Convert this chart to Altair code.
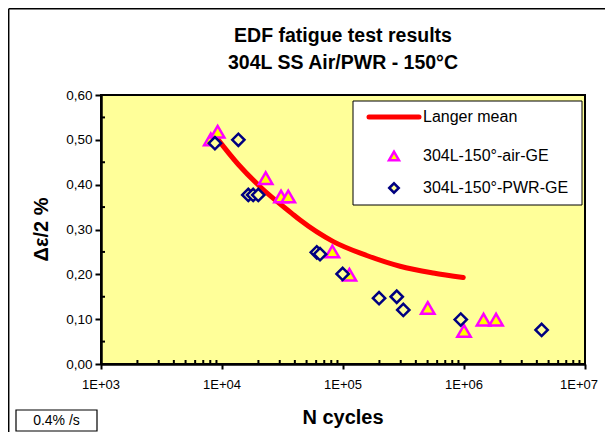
import altair as alt
import pandas as pd

# ---- data ----
air_N = [8080, 9210, 22960, 30760, 35300, 81700, 113000, 502000, 1000000, 1450000, 1840000]
air_eps = [0.501, 0.518, 0.4145, 0.3735, 0.3735, 0.251, 0.199, 0.125, 0.074, 0.099, 0.099]

pwr_N = [8740, 13650, 16500, 18100, 19950, 60700, 64600, 99300, 198600, 278000, 315000, 940000, 4380000]
pwr_eps = [0.4926, 0.50, 0.377, 0.377, 0.377, 0.249, 0.245, 0.201, 0.1467, 0.150, 0.1205, 0.099, 0.076]

langer_N = [9000, 13650, 21300, 37700, 44200, 83200, 157000, 296000, 557000, 986000]
langer_eps = [0.505, 0.445, 0.392, 0.336, 0.321, 0.273, 0.242, 0.218, 0.203, 0.193]

x_major = [1e3, 1e4, 1e5, 1e6, 1e7]
x_minor = [m * 10 ** k for k in range(3, 7) for m in range(2, 10)]
y_major = [0.0, 0.1, 0.2, 0.3, 0.4, 0.5, 0.6]
y_minor = [0.05, 0.15, 0.25, 0.35, 0.45, 0.55]

title_lines = ["EDF fatigue test results", "304L SS Air/PWR - 150°C"]
x_title = "N cycles"
y_title = "Δε/2 %"
rate_note = "0.4% /s"
legend_labels = ["Langer mean", "304L-150°-air-GE", "304L-150°-PWR-GE"]

# ---- build ----
W, H = 484, 269
FONT = "Liberation Sans"

air = pd.DataFrame({"N": air_N, "eps": air_eps})
pwr = pd.DataFrame({"N": pwr_N, "eps": pwr_eps})
langer = pd.DataFrame({"N": langer_N, "eps": langer_eps})

xs = alt.Scale(type="log", domain=[1e3, 1e7])
ys = alt.Scale(domain=[0, 0.6])

x_axis = alt.Axis(values=x_major, labels=False,
                  title=None, grid=False, tickSize=5, tickWidth=2, tickColor="black",
                  domainColor="black", domainWidth=2.5)
y_axis = alt.Axis(values=y_major, labelExpr="replace(format(datum.value, '.2f'), '.', ',')",
                  title=None, grid=False, tickSize=6, tickWidth=2, tickColor="black",
                  domainColor="black", domainWidth=2.5, labelFont=FONT, labelFontSize=13.5,
                  labelColor="black", labelPadding=3, labelFlush=False, labelOverlap=False)

X = alt.X("N:Q", scale=xs, axis=x_axis)
Y = alt.Y("eps:Q", scale=ys, axis=y_axis)

one = alt.Data(values=[{"a": 1}])

line = alt.Chart(langer).mark_line(color="#FF0000", strokeWidth=5, strokeCap="round",
                                   interpolate="monotone").encode(x=X, y=Y)
tri = alt.Chart(air).mark_point(shape="triangle-up", size=180, filled=True, fill="#FFFF00",
                                stroke="#FF00FF", strokeWidth=2.5, opacity=1).encode(x=X, y=Y)
dia = alt.Chart(pwr).mark_point(shape="diamond", size=150, filled=True, fill="#FFFF99",
                                stroke="#000080", strokeWidth=2.5, opacity=1).encode(x=X, y=Y)

xmin = alt.Chart(pd.DataFrame({"N": x_minor})).mark_rule(color="black", strokeWidth=2).encode(
    x=X, y=alt.value(H), y2=alt.value(H - 4))
ymin = alt.Chart(pd.DataFrame({"eps": y_minor})).mark_rule(color="black", strokeWidth=2).encode(
    y=Y, x=alt.value(0), x2=alt.value(4))

# x tick labels drawn through the x scale; the last one is nudged inside the page like Excel does
xlab_df = pd.DataFrame({"N": x_major})
lab_expr = "'1E+0' + format(log(datum.N)/LN10, '.0f')"
xlab = alt.Chart(xlab_df).transform_filter("datum.N < 5e6").transform_calculate(
    lab=lab_expr
).mark_text(font=FONT, fontSize=13, color="black", baseline="middle", align="center").encode(
    x=X, y=alt.value(H + 21), text="lab:N")
xlab_last = alt.Chart(xlab_df).transform_filter("datum.N > 5e6").transform_calculate(
    lab=lab_expr
).mark_text(font=FONT, fontSize=13, color="black", baseline="middle", align="center",
            dx=-6).encode(x=X, y=alt.value(H + 21), text="lab:N")

# outer frame
frame_l = alt.Chart(one).mark_rule(color="black", strokeWidth=1.5).encode(
    x=alt.value(-92.3), y=alt.value(-86.3), y2=alt.value(H + 68))
frame_t = alt.Chart(one).mark_rule(color="black", strokeWidth=1.5).encode(
    x=alt.value(-92.3), x2=alt.value(W + 20), y=alt.value(-86.3))

def txt(s, x, y, size, bold=False, align="center", angle=0):
    return alt.Chart(one).mark_text(text=s, font=FONT, fontSize=size, align=align,
                                    baseline="middle", fontWeight="bold" if bold else "normal",
                                    color="black", angle=angle).encode(
        x=alt.value(x), y=alt.value(y))

t1 = txt(title_lines[0], W / 2, -59, 19.5, True)
t2 = txt(title_lines[1], W / 2, -32.5, 19.5, True)
xt = txt(x_title, W / 2, 323, 20, True)
yt = txt(y_title, -59, H / 2, 20, True, angle=270)

note_box = alt.Chart(one).mark_rect(fill="white", stroke="black", strokeWidth=1.2).encode(
    x=alt.value(-85), x2=alt.value(-4), y=alt.value(315), y2=alt.value(336))
note = txt(rate_note, -44.5, 325.5, 14)

# legend
leg_box = alt.Chart(one).mark_rect(fill="white", stroke="black", strokeWidth=1).encode(
    x=alt.value(252), x2=alt.value(481), y=alt.value(6), y2=alt.value(110))
leg_line = alt.Chart(one).mark_rule(color="#FF0000", strokeWidth=5, strokeCap="round").encode(
    x=alt.value(268), x2=alt.value(318), y=alt.value(22))
leg_tri = alt.Chart(one).mark_point(shape="triangle-up", size=100, filled=True, fill="#FFFF00",
                                    stroke="#FF00FF", strokeWidth=2.5, opacity=1).encode(
    x=alt.value(293), y=alt.value(61))
leg_dia = alt.Chart(one).mark_point(shape="diamond", size=90, filled=True, fill="#FFFF99",
                                    stroke="#000080", strokeWidth=2.5, opacity=1).encode(
    x=alt.value(293), y=alt.value(93))
l1 = txt(legend_labels[0], 322, 22, 16, align="left")
l2 = txt(legend_labels[1], 322, 61, 16, align="left")
l3 = txt(legend_labels[2], 322, 93, 16, align="left")

chart = alt.layer(
    line, tri, dia, xmin, ymin, xlab, xlab_last, frame_l, frame_t, t1, t2, xt, yt, note_box, note,
    leg_box, leg_line, leg_tri, leg_dia, l1, l2, l3
).properties(
    width=W, height=H,
    autosize=alt.AutoSizeParams(type="none"),
    padding={"left": 93, "top": 87, "right": 20, "bottom": 68},
    background="white",
).configure_view(fill="#FFFF99", stroke="black", strokeWidth=2)

chart.save("out.html", embed_options={"renderer": "svg", "actions": False})
